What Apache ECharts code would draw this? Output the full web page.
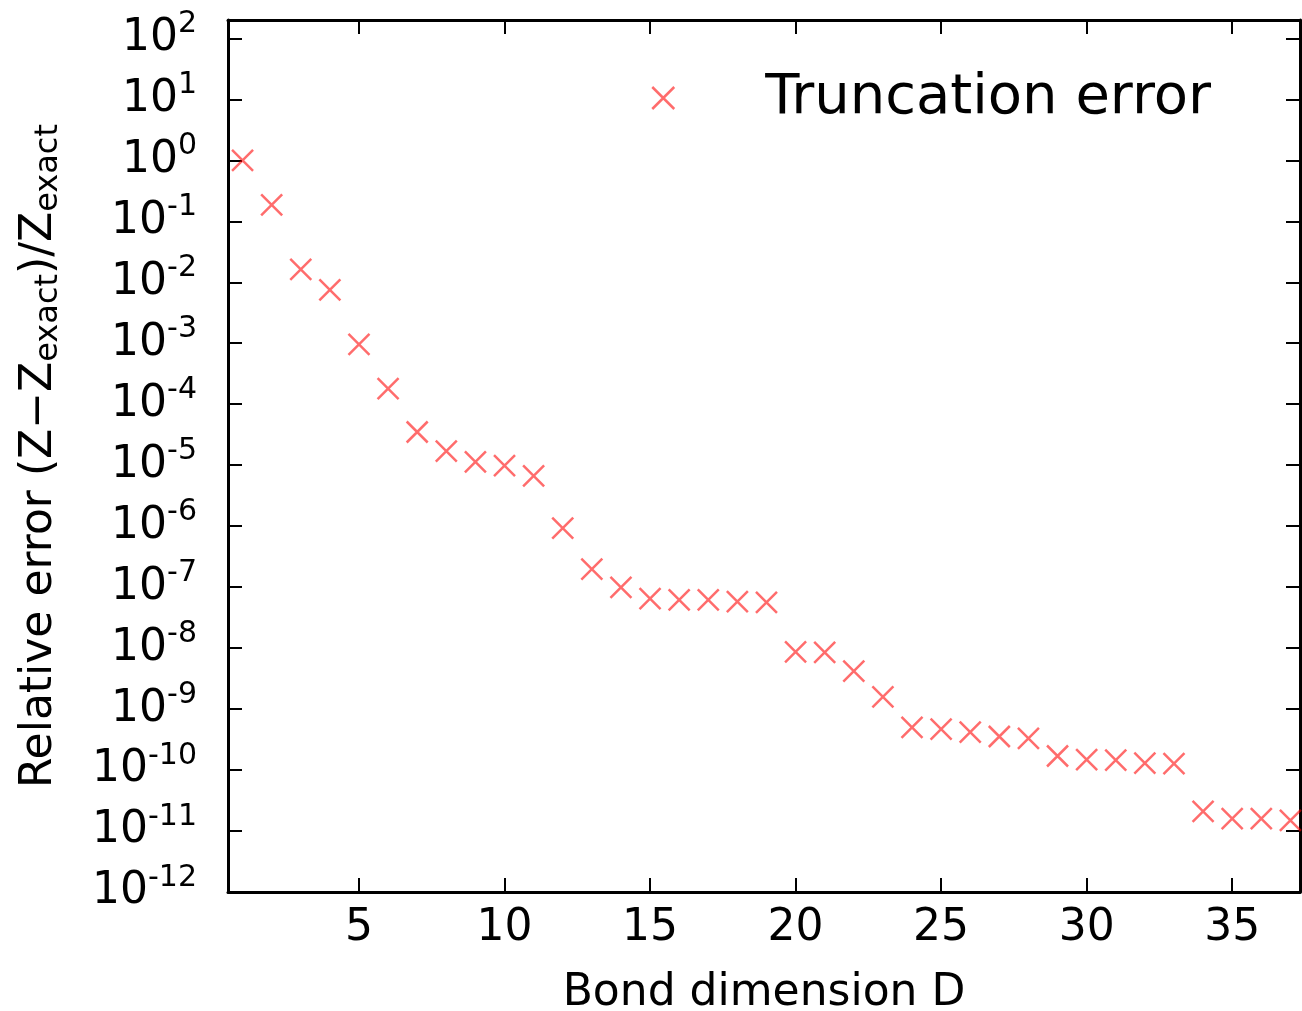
<!DOCTYPE html>
<html>
<head>
<meta charset="utf-8">
<script src="https://cdn.jsdelivr.net/npm/echarts@6/dist/echarts.min.js"></script>
<style>
html,body{margin:0;padding:0;background:#fff;}
#chart{width:1302px;height:1011px;}
</style>
</head>
<body>
<div id="chart"></div>
<script>
// ---- data ----
const seriesName = 'Truncation error';
const bondDim = [1,2,3,4,5,6,7,8,9,10,11,12,13,14,15,16,17,18,19,20,21,22,23,24,25,26,27,28,29,30,31,32,33,34,35,36,37];
const relError = [
  1.0, 0.185, 0.0163, 0.0075, 9.6e-4, 1.8e-4, 3.5e-5, 1.7e-5, 1.13e-5, 9.8e-6,
  6.7e-6, 9.3e-7, 1.97e-7, 9.9e-8, 6.5e-8, 6.2e-8, 6.2e-8, 5.8e-8, 5.6e-8, 8.7e-9,
  8.5e-9, 4.2e-9, 1.58e-9, 5.0e-10, 4.7e-10, 4.2e-10, 3.55e-10, 3.3e-10, 1.7e-10, 1.48e-10,
  1.45e-10, 1.3e-10, 1.28e-10, 2.1e-11, 1.6e-11, 1.6e-11, 1.5e-11
];
const xTicks = [5,10,15,20,25,30,35];
const yTickExponents = [-12,-11,-10,-9,-8,-7,-6,-5,-4,-3,-2,-1,0,1,2];
const xTitle = 'Bond dimension D';
const yTitle = '{m|Relative error (Z\u2212Z}{s|exact}{m|)/Z}{s|exact}';

// ---- chart ----
const F = 'DejaVu Sans';
const yTicks = yTickExponents.map(e => Math.pow(10, e));
const points = bondDim.map((d, i) => [d, relError[i]]);
const xMin = 0.5, xMax = 37.33, yMin = 1e-12, yMax = 200;
const crossPath = 'path://M0,0L10,10M10,0L0,10';
const lineStyle = {color: '#000', width: 3};
const tickStyle = {color: '#000', width: 2};

function yLabel(v) {
  const lg = Math.log10(v);
  const e = Math.round(lg);
  if (Math.abs(lg - e) > 0.01) return '';
  return '{b|10}{s|' + (e < 0 ? '-' + (-e) : e) + '}';
}

const chart = echarts.init(document.getElementById('chart'), null, {renderer: 'canvas'});
chart.setOption({
  animation: false,
  backgroundColor: '#fff',
  grid: {left: 228, right: 2, top: 20, bottom: 119, containLabel: false, outerBoundsMode: 'none'},
  legend: {
    data: [seriesName],
    left: 646, top: 65,
    itemWidth: 194, itemHeight: 22,
    itemStyle: {borderWidth: 2.5},
    textStyle: {fontFamily: F, fontSize: 56, color: '#000'}
  },
  xAxis: [
    {
      type: 'value', min: xMin, max: xMax, position: 'bottom',
      axisLine: {show: true, onZero: false, lineStyle: lineStyle},
      axisTick: {show: true, inside: true, length: 14, lineStyle: tickStyle, customValues: xTicks},
      axisLabel: {customValues: xTicks, fontFamily: F, fontSize: 44, color: '#000', margin: 15},
      splitLine: {show: false},
      name: xTitle, nameLocation: 'middle', nameGap: 80,
      nameTextStyle: {fontFamily: F, fontSize: 44, color: '#000'}
    },
    {
      type: 'value', min: xMin, max: xMax, position: 'top',
      axisLine: {show: true, onZero: false, lineStyle: lineStyle},
      axisTick: {show: true, inside: true, length: 14, lineStyle: tickStyle, customValues: xTicks},
      axisLabel: {show: false},
      splitLine: {show: false}
    }
  ],
  yAxis: [
    {
      type: 'log', logBase: 10, min: yMin, max: yMax, position: 'left',
      axisLine: {show: true, onZero: false, lineStyle: lineStyle},
      axisTick: {show: true, inside: true, length: 14, lineStyle: tickStyle, customValues: yTicks},
      axisLabel: {
        customValues: yTicks, formatter: yLabel, margin: 31, color: '#000',
        rich: {
          b: {fontFamily: F, fontSize: 44, lineHeight: 58, color: '#000'},
          s: {fontFamily: F, fontSize: 30, lineHeight: 30, verticalAlign: 'top', color: '#000'}
        }
      },
      minorTick: {show: false},
      splitLine: {show: false},
      name: yTitle, nameLocation: 'middle', nameGap: 163,
      nameTextStyle: {
        fontFamily: F, color: '#000',
        rich: {
          m: {fontFamily: F, fontSize: 44, lineHeight: 50, color: '#000'},
          s: {fontFamily: F, fontSize: 32, lineHeight: 30, verticalAlign: 'bottom', color: '#000'}
        }
      }
    },
    {
      type: 'log', logBase: 10, min: yMin, max: yMax, position: 'right',
      axisLine: {show: true, onZero: false, lineStyle: lineStyle},
      axisTick: {show: true, inside: true, length: 14, lineStyle: tickStyle, customValues: yTicks},
      axisLabel: {show: false},
      splitLine: {show: false}
    }
  ],
  series: [{
    type: 'scatter', name: seriesName,
    xAxisIndex: 0, yAxisIndex: 0,
    data: points,
    symbol: crossPath, symbolSize: 21,
    itemStyle: {color: 'transparent', borderColor: 'rgba(255,0,0,0.72)', borderWidth: 2.5},
    z: 5
  }]
});
</script>
</body>
</html>
